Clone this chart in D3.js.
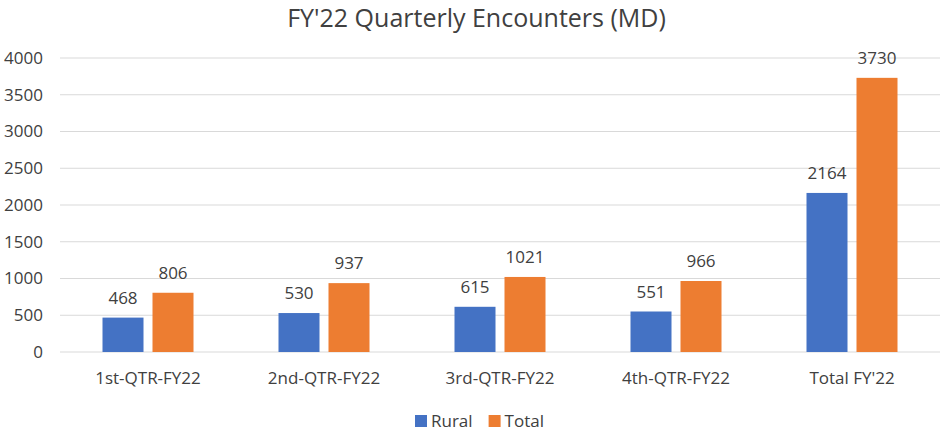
<!DOCTYPE html>
<html>
<head>
<meta charset="utf-8">
<script src="https://cdn.jsdelivr.net/npm/d3@7"></script>
<style>
  body { margin: 0; background: #fff; }
  svg text { font-family: "Open Sans", "Noto Sans", sans-serif; fill: #404040; }
</style>
</head>
<body>
<div id="chart"></div>
<script>
// data
var categories = ["1st-QTR-FY22", "2nd-QTR-FY22", "3rd-QTR-FY22", "4th-QTR-FY22", "Total FY'22"];
var rural = [468, 530, 615, 551, 2164];
var total = [806, 937, 1021, 966, 3730];
var seriesNames = ["Rural", "Total"];
var yTicks = [0, 500, 1000, 1500, 2000, 2500, 3000, 3500, 4000];

var COLOR = { Rural: "#4472C4", Total: "#ED7D31" };

var W = 945, H = 433;
var margin = { top: 58, right: 5, bottom: 81, left: 60 };

var svg = d3.select("#chart").append("svg")
  .attr("width", W).attr("height", H);

var x = d3.scaleBand()
  .domain(categories)
  .range([margin.left, W - margin.right]);

var y = d3.scaleLinear()
  .domain([0, 4000])
  .range([H - margin.bottom, margin.top]);

// title
svg.append("text")
  .attr("x", W / 2 + 4).attr("y", 27)
  .attr("text-anchor", "middle")
  .style("font-size", "25px")
  .text("FY'22 Quarterly Encounters (MD)");

// gridlines
svg.append("g").selectAll("line")
  .data(yTicks).enter().append("line")
  .attr("x1", margin.left).attr("x2", W - margin.right)
  .attr("y1", function (d) { return y(d); })
  .attr("y2", function (d) { return y(d); })
  .attr("stroke", "#d9d9d9").attr("stroke-width", 1);

// y axis labels
var yAxis = d3.axisLeft(y).tickValues(yTicks).tickFormat(d3.format("d")).tickSize(0).tickPadding(0);
var yg = svg.append("g")
  .attr("transform", "translate(" + 43 + ",0)")
  .call(yAxis);
yg.select(".domain").remove();
yg.selectAll("text").style("font-size", "17px").attr("fill", "#404040");

// x axis labels
var xAxis = d3.axisBottom(x).tickSize(0).tickPadding(0);
var xg = svg.append("g")
  .attr("transform", "translate(0," + (y(0) + 20) + ")")
  .call(xAxis);
xg.select(".domain").remove();
xg.selectAll("text").style("font-size", "17px").attr("fill", "#404040");

// bars
var barW = 41, gap = 9;
var series = [{ name: "Rural", values: rural }, { name: "Total", values: total }];

series.forEach(function (s, si) {
  var offset = si === 0 ? -(gap / 2 + barW) : gap / 2;
  var g = svg.append("g");
  g.selectAll("rect")
    .data(s.values).enter().append("rect")
    .attr("x", function (d, i) { return x(categories[i]) + x.bandwidth() / 2 + offset; })
    .attr("y", function (d) { return y(d); })
    .attr("width", barW)
    .attr("height", function (d) { return y(0) - y(d); })
    .attr("fill", COLOR[s.name]);
  g.selectAll("text")
    .data(s.values).enter().append("text")
    .attr("x", function (d, i) { return x(categories[i]) + x.bandwidth() / 2 + offset + barW / 2; })
    .attr("y", function (d) { return y(d) - 14; })
    .attr("text-anchor", "middle")
    .style("font-size", "17px")
    .text(function (d) { return d; });
});

// legend
var legend = svg.append("g").attr("transform", "translate(" + 415 + "," + 426 + ")");
var lx = 0;
seriesNames.forEach(function (name) {
  legend.append("rect")
    .attr("x", lx).attr("y", -11)
    .attr("width", 12).attr("height", 12)
    .attr("fill", COLOR[name]);
  var t = legend.append("text")
    .attr("x", lx + 16).attr("y", 1)
    .style("font-size", "17px")
    .text(name);
  lx += 16 + t.node().getComputedTextLength() + 16;
});
</script>
</body>
</html>
